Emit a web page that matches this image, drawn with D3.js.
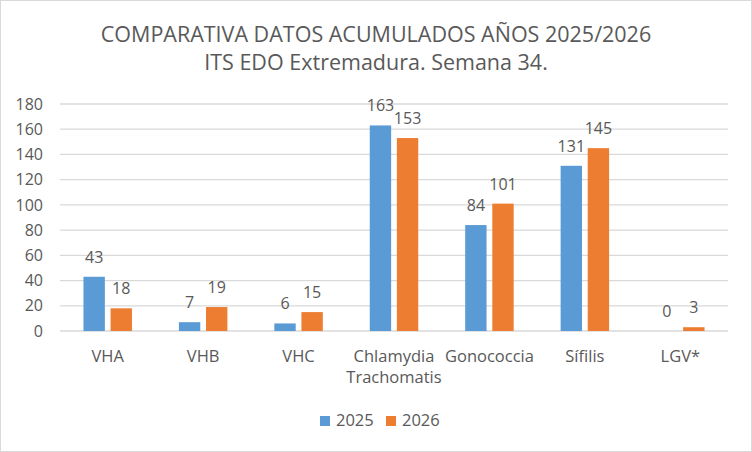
<!DOCTYPE html>
<html>
<head>
<meta charset="utf-8">
<script src="https://cdn.jsdelivr.net/npm/d3@7"></script>
<style>
  body { margin: 0; background: #fff; }
  text { font-family: "Open Sans", "Noto Sans", sans-serif; fill: #595959; }
</style>
</head>
<body>
<script>
const categories = ["VHA", "VHB", "VHC", "Chlamydia Trachomatis", "Gonococcia", "Sífilis", "LGV*"];
const series = ["2025", "2026"];
const values2025 = [43, 7, 6, 163, 84, 131, 0];
const values2026 = [18, 19, 15, 153, 101, 145, 3];
const yTicks = [0, 20, 40, 60, 80, 100, 120, 140, 160, 180];
const titleLines = ["COMPARATIVA DATOS ACUMULADOS AÑOS 2025/2026", "ITS EDO Extremadura. Semana 34."];
const colors = ["#5b9bd5", "#ed7d31"];

const W = 752, H = 452;
const margin = { top: 104, right: 24, bottom: 121, left: 60 };
const width = W - margin.left - margin.right;
const height = H - margin.top - margin.bottom;

const svg = d3.select("body").append("svg")
    .attr("width", W)
    .attr("height", H);

svg.append("rect")
    .attr("x", 0.5).attr("y", 0.5)
    .attr("width", W - 1).attr("height", H - 1)
    .attr("fill", "#fff")
    .attr("stroke", "#d9d9d9");

svg.selectAll(".title")
    .data(titleLines)
    .enter().append("text")
    .attr("x", W / 2)
    .attr("y", (d, i) => 42 + i * 28)
    .attr("text-anchor", "middle")
    .style("font-size", "21.5px")
    .text(d => d);

const g = svg.append("g")
    .attr("transform", "translate(" + margin.left + "," + margin.top + ")");

const x0 = d3.scaleBand().domain(categories).range([0, width]);
const y = d3.scaleLinear().domain([0, 180]).range([height, 0]);
const bw = x0.bandwidth() * 0.224;
const gap = x0.bandwidth() * 0.06;

// gridlines
g.append("g")
    .selectAll("line")
    .data(yTicks)
    .enter().append("line")
    .attr("x1", 0).attr("x2", width)
    .attr("y1", d => y(d)).attr("y2", d => y(d))
    .attr("stroke", "#d9d9d9")
    .attr("stroke-width", 1.3);

// y axis labels
const yAxis = g.append("g")
    .call(d3.axisLeft(y).tickValues(yTicks).tickSize(0).tickPadding(17));
yAxis.select(".domain").remove();
yAxis.selectAll("text")
    .style("font-size", "16px")
    .attr("fill", "#595959");

const data = categories.map((c, i) => ({ cat: c, vals: [values2025[i], values2026[i]] }));

const groups = g.selectAll(".grp")
    .data(data)
    .enter().append("g")
    .attr("transform", d => "translate(" + (x0(d.cat) + x0.bandwidth() / 2) + ",0)");

const barX = j => j === 0 ? -gap / 2 - bw : gap / 2;

groups.selectAll("rect")
    .data(d => d.vals)
    .enter().append("rect")
    .attr("x", (v, j) => barX(j))
    .attr("y", v => y(v))
    .attr("width", bw)
    .attr("height", v => height - y(v))
    .attr("fill", (v, j) => colors[j]);

groups.selectAll(".lbl")
    .data(d => d.vals)
    .enter().append("text")
    .attr("class", "lbl")
    .attr("x", (v, j) => barX(j) + bw / 2)
    .attr("y", v => y(v) - 14)
    .attr("text-anchor", "middle")
    .style("font-size", "16px")
    .text(v => v);

// x axis labels
const xAxis = g.append("g")
    .attr("transform", "translate(0," + height + ")")
    .call(d3.axisBottom(x0).tickSize(0).tickPadding(19));
xAxis.select(".domain").remove();
xAxis.selectAll(".tick text")
    .style("font-size", "16.5px")
    .attr("fill", "#595959")
    .each(function(d) {
        const t = d3.select(this);
        const words = d.split(" ");
        if (words.length > 1) {
            t.text(null);
            words.forEach((w, i) => {
                t.append("tspan").attr("x", 0).attr("dy", i === 0 ? "0.71em" : "1.27em").text(w);
            });
        }
    });

// legend
const legend = svg.append("g").attr("transform", "translate(320,416)");
series.forEach((s, i) => {
    const lg = legend.append("g").attr("transform", "translate(" + (i * 66) + ",0)");
    lg.append("rect").attr("width", 10).attr("height", 10).attr("fill", colors[i]);
    lg.append("text").attr("x", 16).attr("y", 10).style("font-size", "16.5px").text(s);
});
</script>
</body>
</html>
